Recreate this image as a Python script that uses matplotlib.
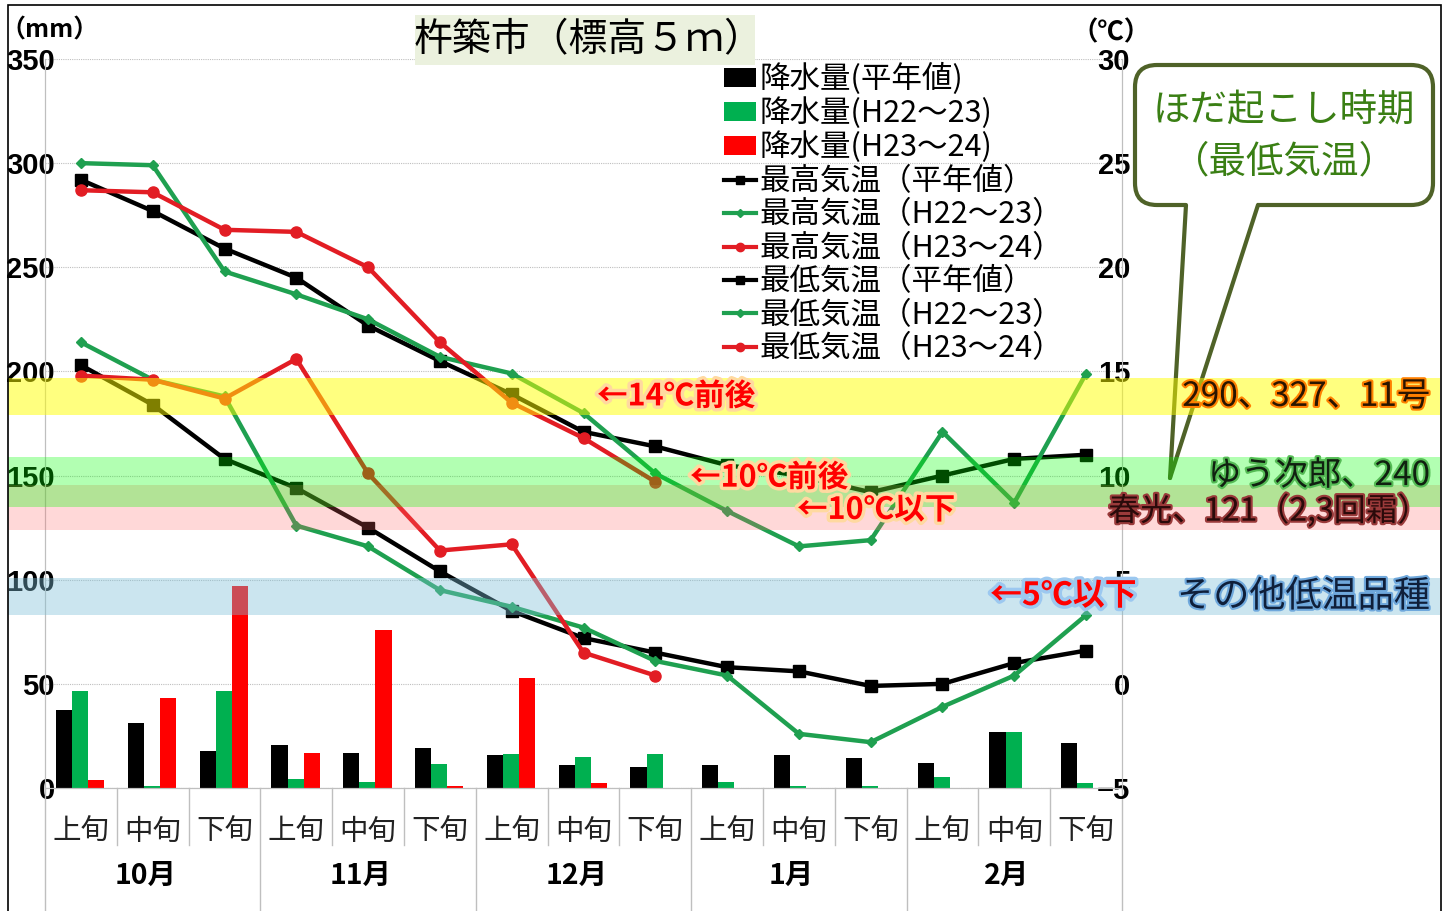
# -*- coding: utf-8 -*-
"""
杵築市 旬別 降水量・気温の推移（ほだ起こし時期）
"""

import numpy as np
import matplotlib
matplotlib.use('Agg')
import matplotlib.pyplot as plt
import matplotlib.patheffects as pe
import matplotlib.transforms as mtransforms
from matplotlib.patches import Rectangle, FancyBboxPatch, Polygon
from matplotlib.lines import Line2D

plt.rcParams['font.family'] = ['Noto Sans CJK JP', 'DejaVu Sans']

# ---- データ ----
periods = ['上旬', '中旬', '下旬'] * 5
months = ['10月', '11月', '12月', '1月', '2月']

# 降水量 (mm)
rain_normal = [37.3, 31.3, 18.0, 20.6, 16.6, 19.1, 15.7, 11.1, 10.3, 11.1, 15.7, 14.6, 12.2, 26.8, 21.7]
rain_h22 = [46.8, 1.2, 46.8, 4.4, 3.1, 11.6, 16.4, 15.1, 16.2, 3.1, 1.2, 0.9, 5.5, 26.8, 2.3]
rain_h23 = [3.9, 43.3, 96.9, 16.6, 75.8, 1.2, 52.9, 2.3]

# 最高気温 (℃)
tmax_normal = [24.2, 22.7, 20.9, 19.5, 17.2, 15.5, 13.9, 12.1, 11.4, 10.5, 10.0, 9.2, 10.0, 10.8, 11.0]
tmax_h22 = [25.0, 24.9, 19.8, 18.7, 17.5, 15.7, 14.9, 13.0, 10.1, 8.3, 6.6, 6.9, 12.1, 8.7, 14.9]
tmax_h23 = [23.7, 23.6, 21.8, 21.7, 20.0, 16.4, 13.5, 11.8, 9.7]

# 最低気温 (℃)
tmin_normal = [15.3, 13.4, 10.8, 9.4, 7.5, 5.4, 3.5, 2.2, 1.5, 0.8, 0.6, -0.1, 0.0, 1.0, 1.6]
tmin_h22 = [16.4, 14.6, 13.8, 7.6, 6.6, 4.5, 3.7, 2.7, 1.1, 0.4, -2.4, -2.8, -1.1, 0.4, 3.3]
tmin_h23 = [14.8, 14.6, 13.7, 15.6, 10.1, 6.4, 6.7, 1.5, 0.4]

# 温度帯 (下限, 上限)
band_14 = (12.9, 14.7)
band_10a = (8.5, 10.9)
band_10b = (7.4, 9.55)
band_5 = (3.3, 5.1)

C_GREEN_BAR = '#00B050'
C_GREEN = '#1FA050'
C_RED = '#E21D24'
C_GRID = '#BFBFBF'
OLIVE = '#4F6228'

W, H = 1451, 911
fig = plt.figure(figsize=(W / 100, H / 100), dpi=100)
ax1 = fig.add_axes([45 / W, 1 - 788 / H, 1077 / W, 729 / H])
ax2 = ax1.twinx()


def pix(x, y):
    # 画像ピクセル座標(左上原点) -> 表示座標
    return (x, H - y)


# ---- 降水量 (棒) ----
x = np.arange(len(periods))
bw = 0.225
ax1.bar(x - bw - 0.01, rain_normal, bw, color='black', zorder=2)
ax1.bar(x - 0.01, rain_h22, bw, color=C_GREEN_BAR, zorder=2)
ax1.bar(np.arange(len(rain_h23)) + bw - 0.01, rain_h23, bw, color='#FF0000', zorder=2)

ax1.set_xlim(-0.5, len(periods) - 0.5)
ax1.set_ylim(0, 350)
ax1.set_yticks(np.arange(0, 351, 50))
ax1.set_xticks([])
ax1.yaxis.grid(True, linestyle=(0, (1, 1)), color=C_GRID, lw=0.8)
ax1.set_axisbelow(True)
ax1.tick_params(axis='y', length=0, pad=-7.2, labelsize=21, labelfontfamily='Liberation Sans')

# ---- 気温 (折れ線) ----
lw = 3.2
ax2.plot(x, tmax_normal, color='black', lw=lw, marker='s', ms=8)
ax2.plot(x, tmax_h22, color=C_GREEN, lw=lw, marker='D', ms=5.5)
ax2.plot(np.arange(len(tmax_h23)), tmax_h23, color=C_RED, lw=lw, marker='o', ms=8)
ax2.plot(x, tmin_normal, color='black', lw=lw, marker='s', ms=8)
ax2.plot(x, tmin_h22, color=C_GREEN, lw=lw, marker='D', ms=5.5)
ax2.plot(np.arange(len(tmin_h23)), tmin_h23, color=C_RED, lw=lw, marker='o', ms=8)
ax2.set_ylim(-5, 30)
ax2.set_yticks(np.arange(-5, 31, 5))
ax2.tick_params(axis='y', length=0, pad=5.8, labelsize=21, labelfontfamily='Liberation Sans')

for a in (ax1, ax2):
    a.spines['top'].set_visible(False)
    for s in ('left', 'right', 'bottom'):
        a.spines[s].set_color(C_GRID)
    for lab in a.get_yticklabels():
        lab.set_fontweight('bold')
for lab in ax2.get_yticklabels():
    lab.set_ha('right')

# ---- 横軸ラベル ----
sep_tr = mtransforms.blended_transform_factory(ax1.transData, ax1.transAxes)
for i in range(len(periods) + 1):
    bottom = -0.17 if i % 3 == 0 else -0.078
    ax1.plot([i - 0.5, i - 0.5], [0, bottom], color=C_GRID, lw=1, transform=sep_tr, clip_on=False)
for i, p in enumerate(periods):
    ax1.text(i, -0.0604, p, transform=sep_tr, ha='center', va='center', fontsize=20.5, color='#222222')
for m, name in enumerate(months):
    ax1.text(3 * m + 0.9, -0.1207, name, transform=sep_tr, ha='center', va='center',
             fontsize=20.5, fontweight='bold')

fig.text(50 / W, 1 - 31 / H, '（mm）', ha='center', va='center', fontsize=18, fontweight='bold')
fig.text(1111 / W, 1 - 33 / H, '（℃）', ha='center', va='center', fontsize=19, fontweight='bold')

# ---- 凡例 ----
handles = [
    Rectangle((0, 0), 1, 1, fc='black'),
    Rectangle((0, 0), 1, 1, fc=C_GREEN_BAR),
    Rectangle((0, 0), 1, 1, fc='#FF0000'),
    Line2D([], [], color='black', lw=3, marker='s', ms=6),
    Line2D([], [], color=C_GREEN, lw=3, marker='D', ms=4),
    Line2D([], [], color=C_RED, lw=3, marker='o', ms=6),
    Line2D([], [], color='black', lw=3, marker='s', ms=6),
    Line2D([], [], color=C_GREEN, lw=3, marker='D', ms=4),
    Line2D([], [], color=C_RED, lw=3, marker='o', ms=6),
]
labels = ['降水量(平年値)', '降水量(H22～23)', '降水量(H23～24)',
          '最高気温（平年値）', '最高気温（H22～23）', '最高気温（H23～24）',
          '最低気温（平年値）', '最低気温（H22～23）', '最低気温（H23～24）']
fig.legend(handles, labels, loc='upper left', bbox_to_anchor=(724 / W, 1 - 63 / H),
           frameon=False, fontsize=22, handlelength=1.05, handleheight=0.6,
           handletextpad=0.1, labelspacing=0.08, borderpad=0, borderaxespad=0)

# ---- タイトル枠 ----
fig.add_artist(Rectangle(pix(415, 65), 340, 50, transform=mtransforms.IdentityTransform(),
                         facecolor='#EBF1DE', edgecolor='none', zorder=4))
fig.text(588 / W, 1 - 40 / H, '杵築市（標高５ｍ）', ha='center', va='center',
         fontsize=28, style='italic', zorder=6)

# ---- 吹き出し ----
ident = mtransforms.IdentityTransform()
fig.add_artist(FancyBboxPatch(pix(1135, 205), 298, 140, boxstyle='round,pad=0,rounding_size=22',
                              transform=ident, facecolor='white', edgecolor=OLIVE, lw=3, zorder=4))
fig.add_artist(Polygon([pix(1186, 200), pix(1170, 478), pix(1258, 200)], closed=True,
                       transform=ident, facecolor='white', edgecolor='none', zorder=4.1))
for xs in (1186, 1258):
    fig.add_artist(Line2D([xs, 1170], [H - 205, H - 478], transform=ident, color=OLIVE,
                          lw=3, solid_capstyle='round', zorder=4.2))
fig.text(1284 / W, 1 - 136 / H, 'ほだ起こし時期\n（最低気温）', ha='center', va='center',
         fontsize=27, color='#3A7F14', linespacing=1.4, zorder=6)

# ---- 温度帯 ----
band_tr = mtransforms.blended_transform_factory(fig.transFigure, ax2.transData)
for (lo, hi), color, alpha in [(band_14, '#FFFF00', 0.5), (band_10b, '#FF6666', 0.25),
                               (band_10a, '#00FF00', 0.3), (band_5, '#7EC0D8', 0.4)]:
    fig.add_artist(Rectangle((8 / W, lo), 1432 / W, hi - lo, transform=band_tr,
                             facecolor=color, alpha=alpha, edgecolor='none', zorder=5))

glow_red = [pe.withStroke(linewidth=5, foreground='#FFD9A0')]
glow_blue = [pe.withStroke(linewidth=5, foreground='#9CC8F0')]
notes_left = [(597, 13.8, '←14℃前後', glow_red, 22), (690, 9.9, '←10℃前後', glow_red, 22),
              (797, 8.35, '←10℃以下', glow_red, 22), (990, 4.22, '←5℃以下', glow_blue, 23)]
for xp, t, s, eff, fs in notes_left:
    fig.text(xp / W, t, s, transform=band_tr, ha='left', va='center', fontsize=fs,
             fontweight='bold', color='#FF0000', path_effects=eff, zorder=6)

notes_right = [(13.8, '290、327、11号', '#2A1500', '#FF8000', 24),
               (10.0, 'ゆう次郎、240', '#102010', '#55BB55', 24),
               (8.3, '春光、121（2,3回霜）', '#2A0A0A', '#9A3A3A', 23),
               (4.18, 'その他低温品種', '#0F1F3A', '#6FA8DC', 26)]
for t, s, fc, sc, fs in notes_right:
    fig.text(1430 / W, t, s, transform=band_tr, ha='right', va='center', fontsize=fs,
             color=fc, path_effects=[pe.withStroke(linewidth=3, foreground=sc)], zorder=6)

# ---- 外枠 ----
fig.add_artist(Rectangle(pix(8, 915), 1433, 910, transform=ident, fill=False,
                         edgecolor='black', lw=1.2, zorder=7))

fig.savefig('out.png', dpi=100)
